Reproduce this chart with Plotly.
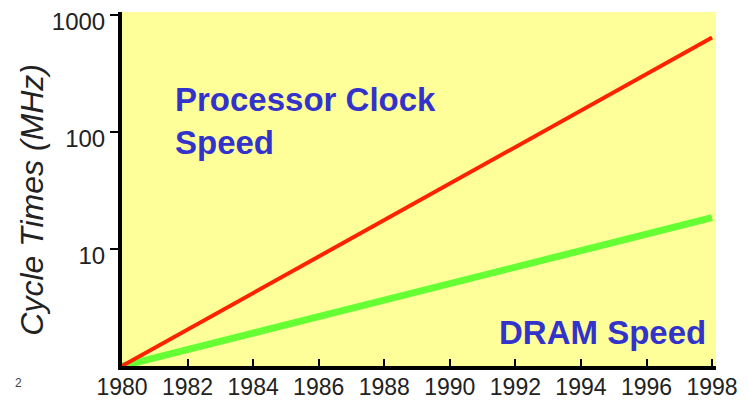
import plotly.graph_objects as go

years = [1980, 1998]
processor_mhz = [1, 640]
dram_mhz = [1, 18.5]
y_tick_vals = [10, 100, 1000]
y_tick_text = ["10", "100", "1000"]
x_tick_vals = list(range(1980, 1999, 2))

FONT = "Liberation Sans, Arial, sans-serif"
BLUE = "#3333CC"

fig = go.Figure()
fig.add_trace(go.Scatter(x=years, y=dram_mhz, mode="lines",
                         line=dict(color="#66FF33", width=7), hoverinfo="skip"))
fig.add_trace(go.Scatter(x=years, y=processor_mhz, mode="lines",
                         line=dict(color="#FF2200", width=4), hoverinfo="skip"))

# page body has an 8px default margin; size figure so plot area lands at page (122..716, 12..366)
fig.update_layout(
    width=740, height=392,
    margin=dict(l=114, r=32, t=4, b=34, autoexpand=False),
    paper_bgcolor="white", plot_bgcolor="#FFFF99",
    showlegend=False,
    font=dict(family=FONT, color="#222222"),
)
fig.update_xaxes(
    range=[1980, 1998.12], tickvals=x_tick_vals, automargin=False,
    showgrid=False, zeroline=False,
    showline=True, linecolor="black", linewidth=4,
    ticks="inside", ticklen=7, tickwidth=2, tickcolor="black",
    ticklabeloverflow="allow", ticklabelstandoff=-3,
    tickfont=dict(size=23, family=FONT, color="#222222"),
)
fig.update_yaxes(
    type="log", range=[0, 3.025], automargin=False,
    tickvals=y_tick_vals, ticktext=y_tick_text,
    showgrid=False, zeroline=False,
    showline=True, linecolor="black", linewidth=4,
    ticks="outside", ticklen=8, tickwidth=2, tickcolor="black",
    ticklabeloverflow="allow", ticklabelshift=7,
    tickfont=dict(size=24, family=FONT, color="#222222"),
)

fig.add_annotation(xref="paper", yref="paper", x=0.0859, y=0.692,
                   xanchor="left", yanchor="middle", align="left", showarrow=False,
                   text="<b>Processor Clock<br>Speed</b>",
                   font=dict(size=33, family=FONT, color=BLUE))
fig.add_annotation(xref="paper", yref="paper", x=0.9865, y=0.096,
                   xanchor="right", yanchor="middle", showarrow=False,
                   text="<b>DRAM Speed</b>",
                   font=dict(size=33, family=FONT, color=BLUE))
fig.add_annotation(xref="paper", yref="paper", x=-0.152, y=0.469,
                   xanchor="center", yanchor="middle", showarrow=False, textangle=-90,
                   text="<i>Cycle Times (MHz)</i>",
                   font=dict(size=32, family=FONT, color="#222222"))
fig.add_annotation(xref="paper", yref="paper", x=(18 - 122) / 594, y=(366 - 383) / 354,
                   xanchor="center", yanchor="middle", showarrow=False,
                   text="2", font=dict(size=12, family=FONT, color="#444444"))

fig.write_html("out.html")
